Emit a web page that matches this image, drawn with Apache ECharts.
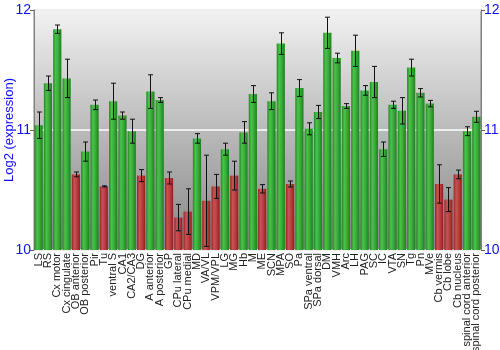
<!DOCTYPE html>
<html>
<head>
<meta charset="utf-8">
<script src="https://cdn.jsdelivr.net/npm/echarts@6/dist/echarts.min.js"></script>
<style>
  html, body { margin: 0; padding: 0; background: #fff; }
  #chart { width: 500px; height: 350px; }
</style>
</head>
<body>
<div id="chart"></div>
<script>
// Brain regions along the x axis
const regions = [
  'LS', 'RS', 'Cx motor', 'Cx cingulate', 'OB anterior', 'OB posterior', 'Pir', 'Tu',
  'ventral S', 'CA1', 'CA2/CA3', 'DG', 'A anterior', 'A posterior', 'GP', 'CPu lateral',
  'CPu medial', 'MD', 'VA/VL', 'VPM/VPL', 'LG', 'MG', 'Hb', 'M', 'ME', 'SCN', 'MPA', 'SO',
  'Pa', 'SPa ventral', 'SPa dorsal', 'DM', 'VMH', 'Arc', 'LH', 'PAG', 'SC', 'IC', 'VTA',
  'SN', 'Tg', 'Pn', 'MVe', 'Cb vermis', 'Cb lobe', 'Cb nucleus',
  'spinal cord anterior', 'spinal cord posterior'
];

// Mean log2 expression per region
const expression = [
  11.04, 11.39, 11.84, 11.43, 10.63, 10.82, 11.21, 10.53,
  11.24, 11.12, 10.99, 10.62, 11.32, 11.25, 10.60, 10.27,
  10.32, 10.93, 10.41, 10.53, 10.84, 10.62, 10.98, 11.30, 10.51, 11.24, 11.72, 10.55,
  11.35, 11.01, 11.15, 11.81, 11.60, 11.20, 11.66, 11.33, 11.40, 10.84, 11.21,
  11.16, 11.52, 11.31, 11.22, 10.55, 10.42, 10.63,
  10.99, 11.11
];

// Error (half-length of each error bar)
const errors = [
  0.11, 0.06, 0.035, 0.16, 0.02, 0.08, 0.04, 0.005,
  0.15, 0.03, 0.10, 0.05, 0.14, 0.02, 0.05, 0.11,
  0.19, 0.04, 0.38, 0.10, 0.05, 0.12, 0.09, 0.07, 0.035, 0.07, 0.09, 0.025,
  0.07, 0.05, 0.055, 0.13, 0.04, 0.02, 0.13, 0.04, 0.13, 0.06, 0.03,
  0.11, 0.07, 0.035, 0.027, 0.16, 0.10, 0.036,
  0.037, 0.046
];

// Regions with low expression are drawn in red
const lowThreshold = 10.7;

const yTicks = [10, 11, 12];

const font = 'Liberation Sans, Arial, sans-serif';

function barGradient(low) {
  const c = low
    ? ['#962424', '#c65454', '#b83c3c', '#8e2020']
    : ['#228622', '#4cc24c', '#36a836', '#1f7d1f'];
  return new echarts.graphic.LinearGradient(0, 0, 1, 0, [
    { offset: 0, color: c[0] },
    { offset: 0.3, color: c[1] },
    { offset: 0.65, color: c[2] },
    { offset: 1, color: c[3] }
  ]);
}

const barData = expression.map(v => ({
  value: v,
  itemStyle: { color: barGradient(v < lowThreshold) }
}));

const errData = expression.map((v, i) => [i, v - errors[i], v + errors[i]]);

const chart = echarts.init(document.getElementById('chart'), null, { renderer: 'canvas' });

const yAxisCommon = {
  type: 'value',
  min: yTicks[0],
  max: yTicks[yTicks.length - 1],
  interval: 1,
  axisLine: { show: true, lineStyle: { color: '#808080', width: 1 } },
  axisTick: { show: true, length: 4, lineStyle: { color: '#606060' } },
  axisLabel: { color: '#1010ff', fontSize: 14, fontFamily: font, margin: 3 },
};

chart.setOption({
  animation: false,
  grid: {
    left: 34, right: 19, top: 10, bottom: 100,
    outerBoundsMode: 'none',
    containLabel: false,
    show: true,
    borderColor: '#808080',
    borderWidth: 1,
    backgroundColor: new echarts.graphic.LinearGradient(0, 0, 0, 1, [
      { offset: 0, color: '#f2f2f2' },
      { offset: 0.5, color: '#bababa' },
      { offset: 1, color: '#868686' }
    ])
  },
  xAxis: {
    type: 'category',
    data: regions,
    axisLine: { show: false },
    axisTick: { show: false },
    axisLabel: {
      interval: 0,
      rotate: 90,
      fontSize: 11,
      color: '#222',
      fontFamily: font,
      margin: 3
    }
  },
  yAxis: [
    Object.assign({}, yAxisCommon, {
      position: 'left',
      name: 'Log2 (expression)',
      nameLocation: 'middle',
      nameGap: 18,
      nameMoveOverlap: false,
      nameTextStyle: { color: '#1010ff', fontSize: 13, fontFamily: font },
      splitLine: { show: true, lineStyle: { color: '#ffffff', width: 1.5 } }
    }),
    Object.assign({}, yAxisCommon, {
      position: 'right',
      splitLine: { show: false }
    })
  ],
  series: [
    {
      type: 'bar',
      data: barData,
      barWidth: '88%',
      yAxisIndex: 0
    },
    {
      type: 'custom',
      data: errData,
      yAxisIndex: 0,
      z: 10,
      renderItem: function (params, api) {
        const i = api.value(0);
        const lo = api.coord([i, api.value(1)]);
        const hi = api.coord([i, api.value(2)]);
        const x = Math.round(lo[0]) + 0.5;
        const cap = 2.5;
        const style = { stroke: '#111', lineWidth: 1 };
        return {
          type: 'group',
          children: [
            { type: 'line', shape: { x1: x, y1: hi[1], x2: x, y2: lo[1] }, style },
            { type: 'line', shape: { x1: x - cap, y1: hi[1], x2: x + cap, y2: hi[1] }, style },
            { type: 'line', shape: { x1: x - cap, y1: lo[1], x2: x + cap, y2: lo[1] }, style }
          ]
        };
      }
    }
  ]
});
</script>
</body>
</html>
